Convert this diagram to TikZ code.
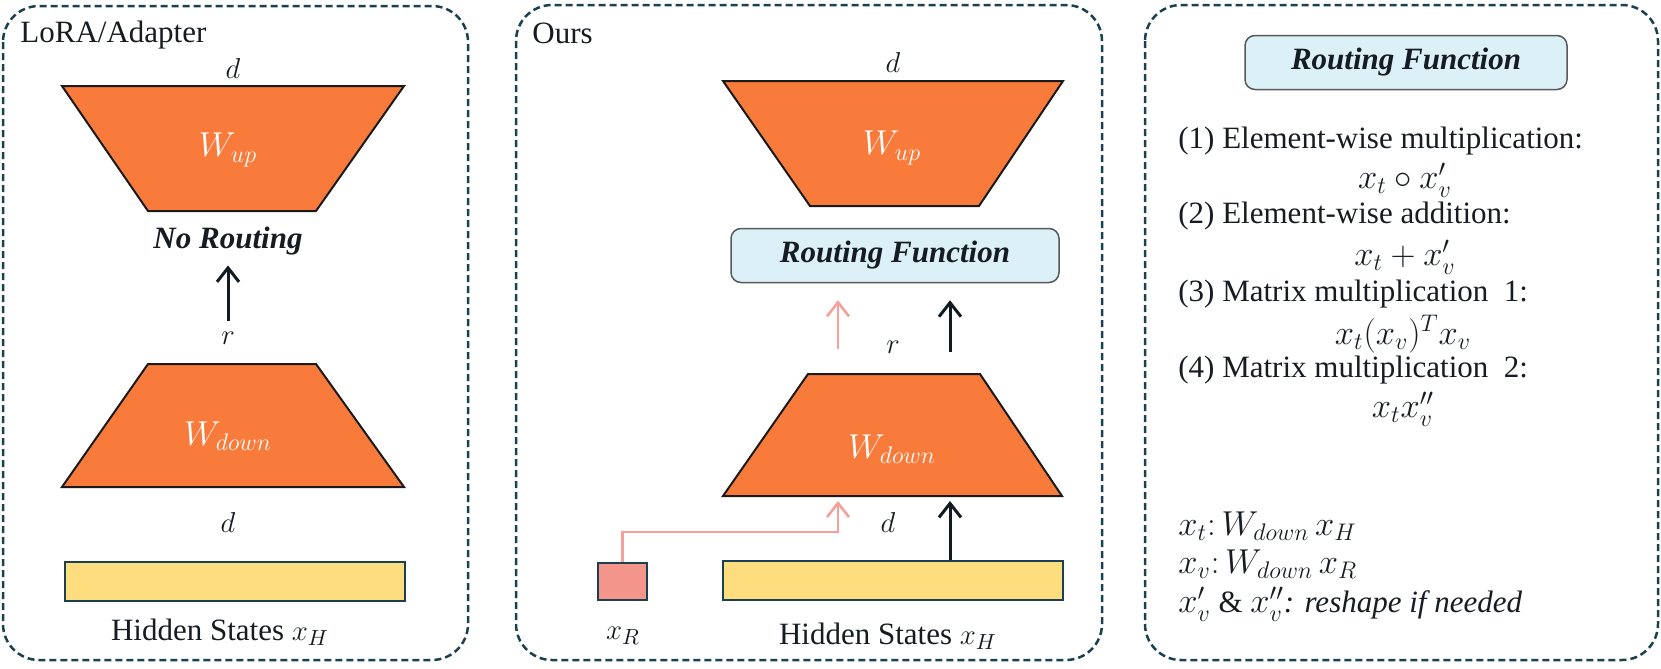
\documentclass[tikz,border=0pt]{standalone}
\usepackage{fontspec}
\IfFontExistsTF{LiberationSerif-Regular.ttf}{%
  \setmainfont{LiberationSerif}[Extension=.ttf, UprightFont=*-Regular, BoldFont=*-Bold,
    ItalicFont=*-Italic, BoldItalicFont=*-BoldItalic]}{%
  \setmainfont{Liberation Serif}}
\usetikzlibrary{arrows.meta}

\definecolor{panelc}{HTML}{1B4150}
\definecolor{orangec}{HTML}{F87B3B}
\definecolor{trapc}{HTML}{1A1A1A}
\definecolor{bluec}{HTML}{DCF0F8}
\definecolor{yellowc}{HTML}{FEDD7F}
\definecolor{pinkc}{HTML}{F4958B}
\definecolor{pinkarr}{HTML}{F5A19A}
\definecolor{arrc}{HTML}{111B22}
\definecolor{textc}{HTML}{161C22}

\newcommand{\mbig}[1]{{\fontsize{18}{21}\selectfont$#1$}}

\begin{document}
\begin{tikzpicture}[x=0.5pt, y=-0.5pt,
    every node/.style={font=\fontsize{15.5}{18}\selectfont, inner sep=0pt, text=textc},
    panel/.style={draw=panelc, line width=1.25pt, dash pattern=on 3.5pt off 2pt, rounded corners=18pt},
    trap/.style={draw=trapc, fill=orangec, line width=1pt, line join=miter},
    wlbl/.style={text=white, font=\fontsize{17}{20}\selectfont},
    bi/.style={font=\fontsize{15.5}{18}\selectfont\bfseries\itshape},
    rfbox/.style={draw=gray!70!black, fill=bluec, line width=0.75pt, rounded corners=5pt,
      minimum height=27pt, font=\fontsize{15.5}{18}\selectfont\bfseries\itshape},
    hsbar/.style={draw=panelc, fill=yellowc, line width=1pt, minimum width=170pt, minimum height=19.5pt},
    arr/.style={-{Straight Barb[length=7pt,width=11pt]}, line width=1.5pt, draw=arrc},
    parr/.style={-{Straight Barb[length=7pt,width=11pt]}, line width=1.3pt, draw=pinkarr},
  ]
    \useasboundingbox (0,0) rectangle (1661,669);

    \draw[panel] (3,6) rectangle (468,660);
    \node[anchor=west] (lora) at (20,35) {LoRA/Adapter};
    \node (dup1) at (233,68) {$d$};
    \draw[trap] (62,86) -- (404,86) -- (316,211) -- (148,211) -- cycle;
    \node[wlbl] (wup1) at (228,150) {$W_{up}$};
    \node[bi, inner sep=5pt] (nor) at (228,241) {No Routing};
    \node[inner sep=5pt] (r1) at (228,338) {$r$};
    \draw[arr] (r1) -- (nor);
    \draw[trap] (148,364) -- (316,364) -- (404,487) -- (62,487) -- cycle;
    \node[wlbl] (wdn1) at (228,436) {$W_{down}$};
    \node (ddn1) at (228,522) {$d$};
    \node[hsbar] (hs1) at (234.5,581.5) {};
    \node (hsl1) at (220,632) {Hidden States $x_H$};

    \draw[panel] (516,5) rectangle (1102,660);
    \node[anchor=west] (ours) at (532,33) {Ours};
    \node (dup2) at (893,62) {$d$};
    \draw[trap] (723,81) -- (1063,81) -- (979,206) -- (810,206) -- cycle;
    \node[wlbl] (wup2) at (892,148) {$W_{up}$};
    \node[rfbox, minimum width=164pt] (rf2) at (895,255.5) {Routing Function};
    \node (r2) at (893,347) {$r$};
    \draw[trap] (808,374) -- (980,374) -- (1062,496) -- (723,496) -- cycle;
    \node[wlbl] (wdn2) at (892,449) {$W_{down}$};
    \node (ddn2) at (888,522) {$d$};
    \node[draw=panelc, fill=pinkc, line width=1pt, minimum width=24.5pt, minimum height=18.5pt] (xr) at (622.5,581.5) {};
    \node[hsbar] (hs2) at (892.5,580.5) {};
    \node (xrl) at (623,636) {$x_R$};
    \node (hsl2) at (888,636) {Hidden States $x_H$};

    \coordinate (wdt) at (892,374);
    \coordinate (wdb) at (892,496);
    \coordinate (pk) at (838,532);
    \coordinate (pkx) at (838,0);
    \coordinate (bkx) at (950,0);
    \draw[parr, shorten <=12.5pt, shorten >=8.5pt] (pkx |- wdt) -- (pkx |- rf2.south);
    \draw[arr, shorten <=11pt, shorten >=8.5pt] (bkx |- wdt) -- (bkx |- rf2.south);
    \draw[parr, shorten >=2.5pt] (xr.north) |- (pk) -- (pk |- wdb);
    \draw[arr, shorten >=2.5pt] (bkx |- hs2.north) -- (bkx |- wdb);

    \draw[panel] (1145,5) rectangle (1658,660);
    \node[rfbox, minimum width=161pt] (rf3) at (1406,62.5) {Routing Function};
    \node[anchor=west] (l1) at (1178,141) {(1) Element-wise\ multiplication:};
    \node (f1) at (1405,180) {\mbig{x_t \circ x'_v}};
    \node[anchor=west] (l2) at (1178,216) {(2) Element-wise\ addition:};
    \node (f2) at (1405,257) {\mbig{x_t + x'_v}};
    \node[anchor=west] (l3) at (1178,294) {(3) Matrix multiplication\enspace 1:};
    \node (f3) at (1403,334) {\mbig{x_t(x_v)^T x_v}};
    \node[anchor=west] (l4) at (1178,370) {(4) Matrix multiplication\enspace 2:};
    \node (f4) at (1403,409) {\mbig{x_t x''_v}};
    \node[anchor=west] (n1) at (1178,526) {\mbig{x_t{:}\,W_{down}\,x_H}};
    \node[anchor=west] (n2) at (1178,564) {\mbig{x_v{:}\,W_{down}\,x_R}};
    \node[anchor=west] (n3) at (1178,604) {\mbig{x'_v} \& \mbig{x''_v}\textit{: reshape if needed}};

\end{tikzpicture}
\end{document}
